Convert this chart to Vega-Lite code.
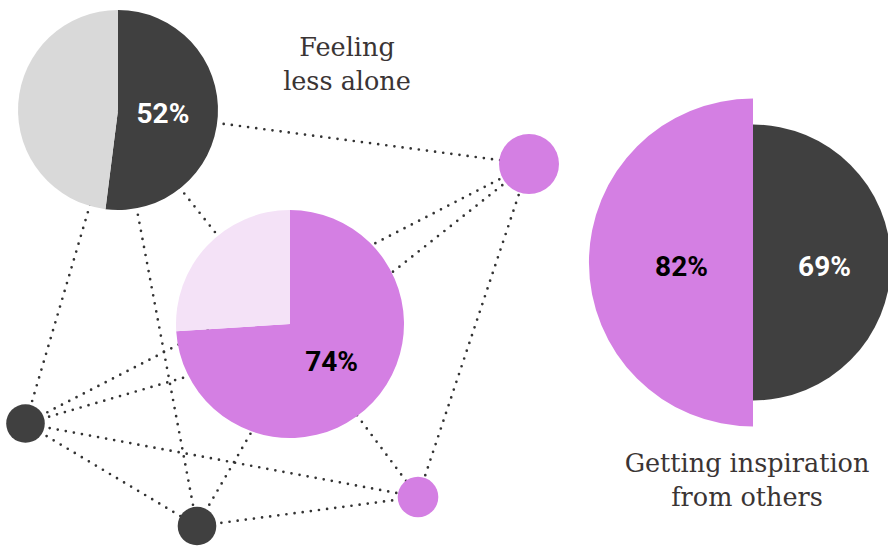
{
  "$schema": "https://vega.github.io/schema/vega-lite/v6.json",
  "width": 888,
  "height": 553,
  "autosize": {"type": "none"},
  "padding": 0,
  "background": "white",
  "config": {"view": {"stroke": null}},
  "datasets": {
    "nodes": [
      {"id": "P1", "x": 118, "y": 110},
      {"id": "P2", "x": 290, "y": 324},
      {"id": "X", "x": 303, "y": 343},
      {"id": "A", "x": 529, "y": 164, "segment": "Purple"},
      {"id": "B", "x": 418, "y": 497, "segment": "Purple"},
      {"id": "C", "x": 25.5, "y": 423.5, "segment": "Dark"},
      {"id": "D", "x": 197, "y": 526, "segment": "Dark"},
      {"id": "H", "x": 753, "y": 262.5}
    ],
    "edges": [
      {"source": "P1", "target": "A"},
      {"source": "P1", "target": "X"},
      {"source": "P1", "target": "C"},
      {"source": "P1", "target": "D"},
      {"source": "C", "target": "A"},
      {"source": "C", "target": "X"},
      {"source": "C", "target": "B"},
      {"source": "C", "target": "D"},
      {"source": "D", "target": "X"},
      {"source": "D", "target": "B"},
      {"source": "X", "target": "B"},
      {"source": "X", "target": "A"},
      {"source": "A", "target": "B"}
    ],
    "slices": [
      {"question": "Feeling less alone", "node": "P1", "segment": "Dark", "value": 0.52},
      {"question": "Feeling less alone", "node": "P1", "segment": "Dark rest", "value": 0.48},
      {"question": "Feeling less alone", "node": "P2", "segment": "Purple", "value": 0.74},
      {"question": "Feeling less alone", "node": "P2", "segment": "Purple rest", "value": 0.26}
    ],
    "halves": [
      {"question": "Getting inspiration from others", "node": "H", "segment": "Dark", "value": 0.69, "half": 0.5},
      {"question": "Getting inspiration from others", "node": "H", "segment": "Purple", "value": 0.82, "half": 0.5}
    ],
    "titles": [
      {"question": "Feeling less alone", "text": "Feeling\nless alone", "x": 347, "y": 56},
      {"question": "Getting inspiration from others", "text": "Getting inspiration\nfrom others", "x": 747, "y": 472}
    ]
  },
  "layer": [
    {
      "data": {"name": "edges"},
      "transform": [
        {"lookup": "source", "from": {"data": {"name": "nodes"}, "key": "id", "fields": ["x", "y"]}, "as": ["sx", "sy"]},
        {"lookup": "target", "from": {"data": {"name": "nodes"}, "key": "id", "fields": ["x", "y"]}, "as": ["tx", "ty"]}
      ],
      "mark": {"type": "rule", "color": "#333333", "strokeWidth": 2.7, "strokeDash": [0, 8.2], "strokeCap": "round"},
      "encoding": {
        "x": {"field": "sx", "type": "quantitative", "scale": {"domain": [0, 888], "zero": false, "nice": false}, "axis": null},
        "y": {"field": "sy", "type": "quantitative", "scale": {"domain": [0, 553], "reverse": true, "zero": false, "nice": false}, "axis": null},
        "x2": {"field": "tx"},
        "y2": {"field": "ty"}
      }
    },
    {
      "data": {"name": "nodes"},
      "transform": [{"filter": "datum.id === 'A'"}],
      "mark": {"type": "circle", "size": 3600, "opacity": 1},
      "encoding": {
        "x": {"field": "x", "type": "quantitative"},
        "y": {"field": "y", "type": "quantitative"},
        "color": {"field": "segment", "type": "nominal", "scale": {"domain": ["Dark", "Dark rest", "Purple", "Purple rest"], "range": ["#404040", "#d9d9d9", "#d47fe3", "#f4e2f7"]}, "legend": null}
      }
    },
    {
      "data": {"name": "nodes"},
      "transform": [{"filter": "datum.id === 'B'"}],
      "mark": {"type": "circle", "size": 1650, "opacity": 1},
      "encoding": {
        "x": {"field": "x", "type": "quantitative"},
        "y": {"field": "y", "type": "quantitative"},
        "color": {"field": "segment", "type": "nominal", "legend": null}
      }
    },
    {
      "data": {"name": "nodes"},
      "transform": [{"filter": "datum.id === 'C' || datum.id === 'D'"}],
      "mark": {"type": "circle", "size": 1490, "opacity": 1},
      "encoding": {
        "x": {"field": "x", "type": "quantitative"},
        "y": {"field": "y", "type": "quantitative"},
        "color": {"field": "segment", "type": "nominal", "legend": null}
      }
    },
    {
      "data": {"name": "slices"},
      "transform": [
        {"filter": "datum.node === 'P1'"},
        {"lookup": "node", "from": {"data": {"name": "nodes"}, "key": "id", "fields": ["x", "y"]}}
      ],
      "mark": {"type": "arc", "outerRadius": 100},
      "encoding": {
        "x": {"field": "x", "type": "quantitative"},
        "y": {"field": "y", "type": "quantitative"},
        "theta": {"field": "value", "type": "quantitative", "stack": true, "scale": {"domain": [0, 1]}},
        "order": {"field": "segment", "type": "ordinal", "sort": "ascending"},
        "color": {"field": "segment", "type": "nominal", "legend": null}
      }
    },
    {
      "data": {"name": "slices"},
      "transform": [
        {"filter": "datum.node === 'P2'"},
        {"lookup": "node", "from": {"data": {"name": "nodes"}, "key": "id", "fields": ["x", "y"]}}
      ],
      "mark": {"type": "arc", "outerRadius": 114},
      "encoding": {
        "x": {"field": "x", "type": "quantitative"},
        "y": {"field": "y", "type": "quantitative"},
        "theta": {"field": "value", "type": "quantitative", "stack": true},
        "order": {"field": "segment", "type": "ordinal", "sort": "ascending"},
        "color": {"field": "segment", "type": "nominal", "legend": null}
      }
    },
    {
      "data": {"name": "halves"},
      "transform": [
        {"lookup": "node", "from": {"data": {"name": "nodes"}, "key": "id", "fields": ["x", "y"]}},
        {"stack": "half", "groupby": ["node"], "sort": [{"field": "segment", "order": "ascending"}], "as": ["t0", "t1"]}
      ],
      "mark": {"type": "arc"},
      "encoding": {
        "x": {"field": "x", "type": "quantitative"},
        "y": {"field": "y", "type": "quantitative"},
        "theta": {"field": "t0", "type": "quantitative", "stack": null},
        "theta2": {"field": "t1"},
        "radius": {"field": "value", "type": "quantitative", "stack": null, "scale": {"type": "linear", "domain": [0, 1], "range": [0, 200], "zero": true}},
        "color": {"field": "segment", "type": "nominal", "legend": null}
      }
    },
    {
      "data": {"name": "slices"},
      "transform": [
        {"filter": "datum.node === 'P1' && datum.segment === 'Dark'"},
        {"lookup": "node", "from": {"data": {"name": "nodes"}, "key": "id", "fields": ["x", "y"]}}
      ],
      "mark": {"type": "text", "radius": 45, "dy": 2.5, "fill": "#ffffff", "font": "Roboto", "fontWeight": "bold", "fontSize": 28, "align": "center", "baseline": "middle"},
      "encoding": {
        "x": {"field": "x", "type": "quantitative"},
        "y": {"field": "y", "type": "quantitative"},
        "theta": {"field": "value", "type": "quantitative", "stack": true},
        "text": {"field": "value", "type": "quantitative", "format": ".0%"}
      }
    },
    {
      "data": {"name": "slices"},
      "transform": [
        {"filter": "datum.node === 'P2' && datum.segment === 'Purple'"},
        {"lookup": "node", "from": {"data": {"name": "nodes"}, "key": "id", "fields": ["x", "y"]}}
      ],
      "mark": {"type": "text", "radius": 57, "fill": "#000000", "font": "Roboto", "fontWeight": "bold", "fontSize": 28, "align": "center", "baseline": "middle"},
      "encoding": {
        "x": {"field": "x", "type": "quantitative"},
        "y": {"field": "y", "type": "quantitative"},
        "theta": {"field": "value", "type": "quantitative", "stack": true},
        "text": {"field": "value", "type": "quantitative", "format": ".0%"}
      }
    },
    {
      "data": {"name": "halves"},
      "transform": [
        {"lookup": "node", "from": {"data": {"name": "nodes"}, "key": "id", "fields": ["x", "y"]}}
      ],
      "mark": {"type": "text", "radius": 71.5, "dy": 5.5, "font": "Roboto", "fontWeight": "bold", "fontSize": 28, "align": "center", "baseline": "middle"},
      "encoding": {
        "x": {"field": "x", "type": "quantitative"},
        "y": {"field": "y", "type": "quantitative"},
        "theta": {"field": "half", "type": "quantitative", "stack": true},
        "order": {"field": "segment", "type": "ordinal", "sort": "ascending"},
        "fill": {"field": "segment", "type": "nominal", "scale": {"domain": ["Dark", "Purple"], "range": ["#ffffff", "#000000"]}, "legend": null},
        "text": {"field": "value", "type": "quantitative", "format": ".0%"}
      }
    },
    {
      "data": {"name": "titles"},
      "mark": {"type": "text", "font": "DejaVu Serif", "fontSize": 25.5, "lineBreak": "\n", "lineHeight": 34, "align": "center", "baseline": "alphabetic", "fill": "#3a3434"},
      "encoding": {
        "x": {"field": "x", "type": "quantitative"},
        "y": {"field": "y", "type": "quantitative"},
        "text": {"field": "text", "type": "nominal"}
      }
    }
  ]
}
